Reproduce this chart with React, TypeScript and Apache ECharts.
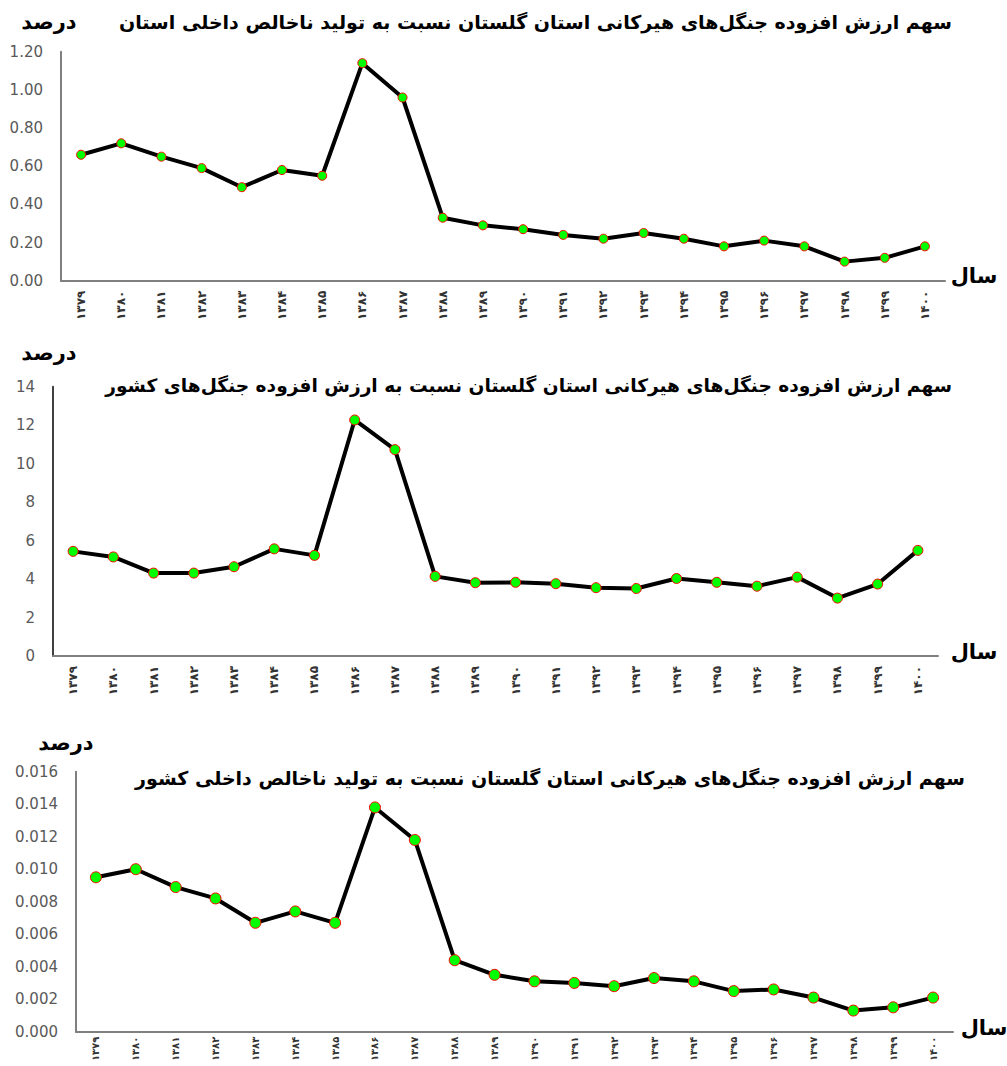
import React, { useEffect, useRef } from "react";
import * as echarts from "echarts";

const years = [
  "۱۳۷۹", "۱۳۸۰", "۱۳۸۱", "۱۳۸۲", "۱۳۸۳", "۱۳۸۴", "۱۳۸۵", "۱۳۸۶", "۱۳۸۷", "۱۳۸۸", "۱۳۸۹",
  "۱۳۹۰", "۱۳۹۱", "۱۳۹۲", "۱۳۹۳", "۱۳۹۴", "۱۳۹۵", "۱۳۹۶", "۱۳۹۷", "۱۳۹۸", "۱۳۹۹", "۱۴۰۰",
];

const shareOfProvinceGdp = [
  0.66, 0.72, 0.65, 0.59, 0.49, 0.58, 0.55, 1.14, 0.96, 0.33, 0.29,
  0.27, 0.24, 0.22, 0.25, 0.22, 0.18, 0.21, 0.18, 0.10, 0.12, 0.18,
];

const shareOfNationalForest = [
  5.44, 5.15, 4.31, 4.31, 4.64, 5.57, 5.23, 12.27, 10.73, 4.14, 3.81,
  3.83, 3.76, 3.55, 3.51, 4.03, 3.83, 3.63, 4.1, 3.01, 3.74, 5.49,
];

const shareOfNationalGdp = [
  0.0095, 0.0100, 0.0089, 0.0082, 0.0067, 0.0074, 0.0067, 0.0138, 0.0118, 0.0044, 0.0035,
  0.0031, 0.0030, 0.0028, 0.0033, 0.0031, 0.0025, 0.0026, 0.0021, 0.0013, 0.0015, 0.0021,
];

const titles = [
  "سهم ارزش افزوده جنگل‌های هیرکانی استان گلستان نسبت به تولید ناخالص داخلی استان",
  "سهم ارزش افزوده جنگل‌های هیرکانی استان گلستان نسبت به ارزش افزوده جنگل‌های کشور",
  "سهم ارزش افزوده جنگل‌های هیرکانی استان گلستان نسبت به تولید ناخالص داخلی کشور",
];
const unitLabel = "درصد";
const xName = "سال";

const yMax = [1.2, 14, 0.016];
const yInterval = [0.2, 2, 0.002];
const yDecimals = [2, 0, 3];

const FONT = "DejaVu Sans";

export default function App() {
  const ref = useRef<HTMLDivElement>(null);
  useEffect(() => {
    document.body.style.margin = "0";
    const chart = echarts.init(ref.current!, undefined, { renderer: "svg" });
    const grids = [
      { left: 61, top: 51.7, width: 884, height: 229, outerBoundsMode: "none", containLabel: false },
      { left: 53, top: 386.7, width: 885, height: 269.3, outerBoundsMode: "none", containLabel: false },
      { left: 76, top: 771.7, width: 877, height: 260, outerBoundsMode: "none", containLabel: false },
    ];
    const axisColors = ["#7f7f7f", "#404040", "#7f7f7f"];
    const dataSets = [shareOfProvinceGdp, shareOfNationalForest, shareOfNationalGdp];
    const symbolSizes = [9, 10, 11];
    const titleSizes = [19, 18.6, 19];
    const xLabelSizes = [12, 12, 10];
    const xLabelMargins = [10, 10, 5];
    const titlePos = [
      { x: 952, y: 22 },
      { x: 952, y: 385 },
      { x: 965, y: 778 },
    ];
    const unitPos = [
      { x: 49, y: 22 },
      { x: 49, y: 353 },
      { x: 66, y: 743 },
    ];
    const xNamePos = [
      { x: 974, y: 276 },
      { x: 974, y: 652 },
      { x: 984, y: 1028 },
    ];
    const graphic: any[] = [];
    for (let i = 0; i < 3; i++) {
      graphic.push({
        type: "text",
        x: titlePos[i].x,
        y: titlePos[i].y,
        style: {
          text: titles[i],
          font: `bold ${titleSizes[i]}px "${FONT}"`,
          fill: "#000",
          align: "right",
          verticalAlign: "middle",
        },
      });
      graphic.push({
        type: "text",
        x: unitPos[i].x,
        y: unitPos[i].y,
        style: {
          text: unitLabel,
          font: `bold 21px "${FONT}"`,
          fill: "#000",
          align: "center",
          verticalAlign: "middle",
        },
      });
      graphic.push({
        type: "text",
        x: xNamePos[i].x,
        y: xNamePos[i].y,
        style: {
          text: xName,
          font: `bold 21px "${FONT}"`,
          fill: "#000",
          align: "center",
          verticalAlign: "middle",
        },
      });
    }
    chart.setOption({
      animation: false,
      backgroundColor: "#fff",
      grid: grids,
      xAxis: grids.map((_, i) => ({
        type: "category",
        gridIndex: i,
        data: years,
        boundaryGap: true,
        axisLine: { lineStyle: { color: "#7f7f7f", width: 2 } },
        axisTick: { show: false },
        axisLabel: {
          rotate: 90,
          interval: 0,
          margin: xLabelMargins[i],
          fontSize: xLabelSizes[i],
          fontWeight: "bold",
          fontFamily: FONT,
          color: "#333",
        },
      })),
      yAxis: grids.map((_, i) => ({
        type: "value",
        gridIndex: i,
        min: 0,
        max: yMax[i],
        interval: yInterval[i],
        axisLine: { show: true, lineStyle: { color: axisColors[i], width: 2 } },
        axisTick: { show: false },
        splitLine: { show: false },
        axisLabel: {
          fontSize: 15,
          fontFamily: FONT,
          color: "#595959",
          margin: 18,
          formatter: (v: number) => v.toFixed(yDecimals[i]),
        },
      })),
      series: dataSets.map((d, i) => ({
        type: "line",
        xAxisIndex: i,
        yAxisIndex: i,
        data: d,
        symbol: "circle",
        symbolSize: symbolSizes[i],
        lineStyle: { color: "#000", width: 4 },
        itemStyle: { color: "#00ff00", borderColor: "#ff0000", borderWidth: 1 },
        z: 3,
      })),
      graphic,
    });
    return () => chart.dispose();
  }, []);
  return <div ref={ref} style={{ width: 1007, height: 1066 }} />;
}
